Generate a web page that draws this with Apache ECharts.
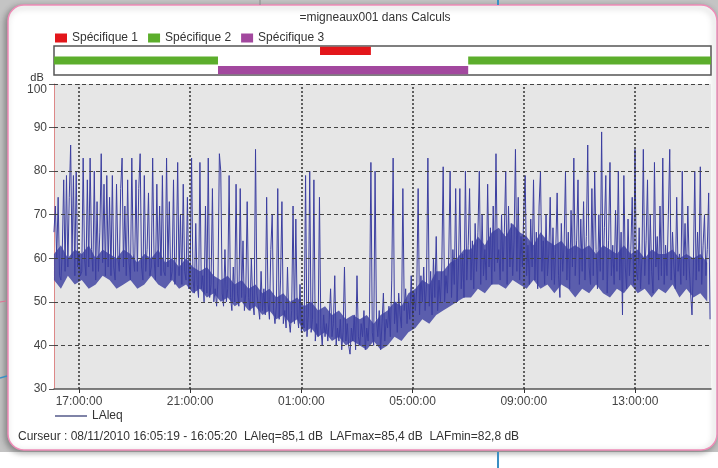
<!DOCTYPE html>
<html><head><meta charset="utf-8">
<script src="https://cdn.jsdelivr.net/npm/echarts@6/dist/echarts.min.js"></script>
<style>html,body{margin:0;padding:0;background:#fff}#c{width:718px;height:468px}</style>
</head><body><div id="c"></div>
<script>
// ---- text ----
const chartTitle = '=migneaux001 dans Calculs';
const cursorText = 'Curseur : 08/11/2010 16:05:19 - 16:05:20  LAleq=85,1 dB  LAFmax=85,4 dB  LAFmin=82,8 dB';
const yUnit = 'dB';
const seriesName = 'LAleq';

// ---- time sampling (hours, 24+ = next day) ----
const startHour = 16.1;
const stepHour = 0.05;
const xMin = 16.101, xMax = 39.734;

// ---- LAleq values (dB) ----
const laeqEvening = [
  66,72,60,74,56,55,62,78,57,79,58,74,86,60,79,56,80,58,61,56,
  57,83,60,56,78,58,83,62,57,80,55,73,57,66,84,59,77,56,79,58,
  74,56,79,58,55,77,60,57,76,83,58,72,56,78,59,55,83,61,57,78,
  57,76,84,58,55,79,57,62,75,56,58,83,60,55,77,58,72,56,79,57,
  56,83,58,73,55,57,78,54,60,82,56,70,54,77,57,55,74,53,58,83,
  55,52,68,54,51,82,53,56,50,72,52,83,51,54,76,50,53,49,55,84
];
const laeqNight = [
  80,52,49,62,50,53,79,51,48,58,50,77,52,49,76,51,64,48,52,73,
  51,48,60,50,47,85,52,49,46,57,48,53,47,74,50,46,62,70,48,45,
  49,76,46,55,73,45,48,44,58,46,43,48,72,45,69,47,44,54,43,46,
  44,79,42,47,80,43,46,78,41,45,42,74,44,40,47,42,45,41,46,53,
  42,45,56,40,44,41,46,39,43,58,41,45,40,38,44,41,47,39,56,42,
  40,45,42,48,39,44,41,47,82,43,40,80,46,42,48,39,45,52,41,46,
  44,49,42,55,83,45,50,43,52,47,44,76,48,53,45,50,46,56,47,52,
  48,53,76,47,56,50,58,48,54,83,49,57,47,60,51,65,48,55,50,58,
  81,50,56,52,60,80,51,62,54,76,50,58,76,53,61,51,80,55,63,76
];
const laeqDay = [
  55,64,53,68,57,66,80,54,70,56,62,55,77,58,67,54,72,57,84,59,
  62,55,70,57,66,80,54,72,58,68,56,64,85,57,74,55,65,58,71,79,
  56,63,54,69,58,78,55,66,53,72,80,57,64,54,70,56,61,74,55,67,
  54,62,75,56,51,68,57,63,80,55,66,53,71,58,83,56,64,78,54,69,
  57,73,55,65,86,58,54,76,56,80,62,53,70,57,89,55,67,79,52,64,
  82,56,63,54,71,57,80,55,66,47,79,58,53,69,56,62,74,54,85,57,
  55,67,53,60,85,56,64,78,54,70,57,52,82,58,65,55,72,56,83,54,
  63,56,70,85,55,66,58,53,74,57,61,54,80,56,68,55,72,58,52,47,
  58,80,55,66,57,81,54,63,70,56,62,75,46
];

// ---- dense background-noise band of LAleq (dB), every 15 min ----
const bandStepHour = 0.25;
const bandLow = [
  55,53,56,54,55,53,54,56,55,53,54,55,53,54,56,54,53,55,53,54,
  52,53,51,52, 50,51,49,50, 48,49,47,48, 46,47,45,46, 43,44,42,43,
  41,42,40,41, 40,39,41,39, 40,42,41,43, 44,46,45,47, 48,49,50,51,
  51,53,52,54, 54,53,55,54, 53,55,53,54, 52,54,53,51, 53,52,54,52,
  51,53,52,54, 52,53,51,53, 52,54,51,53, 51,52,50
];
const bandHigh = [
  61,63,60,62,61,63,60,62,61,60,62,61,59,61,60,62,59,60,58,60,
  58,57,58,56, 55,56,54,55, 53,54,52,53, 51,52,50,51, 49,50,48,49,
  47,48,46,47, 46,47,45,47, 48,50,49,52, 53,55,54,57, 57,59,60,62,
  62,65,63,66, 67,65,68,66, 65,63,66,64, 63,64,62,63, 62,63,61,63,
  62,61,63,61, 62,60,62,61, 61,62,60,61, 60,61,59
];

// ---- axis ticks ----
const xTickHours = [17, 21, 25, 29, 33, 37];
const xTickLabels = ['17:00:00','21:00:00','01:00:00','05:00:00','09:00:00','13:00:00'];
const yGridValues = [40, 50, 60, 70, 80, 90, 100];

// ---- period strip ----
const specNames = ['Spécifique 1', 'Spécifique 2', 'Spécifique 3'];
const specColors = ['#e3161b', '#5cae2c', '#a2489e'];
const spec1Periods = [[25.67, 27.5]];
const spec2Periods = [[16.1, 22.0], [31.0, 39.734]];
const spec3Periods = [[22.0, 31.0]];

const laeq = laeqEvening.concat(laeqNight, laeqDay);
const lineData = laeq.map((v, i) => [startHour + i * stepHour, v]);
const bandData = bandLow.map((v, i) => [startHour + i * bandStepHour, v, bandHigh[i]]);

function renderBar(params, api) {
  const a = api.coord([api.value(0), api.value(2)]);
  const b = api.coord([api.value(1), api.value(2)]);
  const h = api.size([0, 1])[1];
  return { type: 'rect', shape: { x: a[0], y: a[1] - h * 0.42, width: b[0] - a[0], height: h * 0.84 },
           style: { fill: api.visual('color') } };
}
function specSeries(idx, periods) {
  return { type: 'custom', name: specNames[idx], xAxisIndex: 1, yAxisIndex: 1,
    itemStyle: { color: specColors[idx] }, renderItem: renderBar, encode: { x: [0, 1], y: 2 },
    data: periods.map(p => [p[0], p[1], idx + 0.5]), silent: true };
}
const lineColor = '#3c3fa0';
function renderBand(params, api) {
  if (params.dataIndex !== 0) return null;
  const top = bandData.map(d => api.coord([d[0], d[2]]));
  const bottom = bandData.map(d => api.coord([d[0], d[1]])).reverse();
  return { type: 'polygon', shape: { points: top.concat(bottom) },
           style: { fill: lineColor, opacity: 0.82 } };
}

const font = 'Liberation Sans, Arial, sans-serif';
const chart = echarts.init(document.getElementById('c'));
chart.setOption({
  animation: false,
  textStyle: { fontFamily: font },
  graphic: [
    { type: 'rect', z: -20, shape: { x: 0, y: 0, width: 718, height: 452 }, style: { fill: '#c4c4c4' } },
    { type: 'rect', z: -19, shape: { x: 8, y: 5, width: 709, height: 445, r: 16 },
      style: { fill: '#fff', stroke: '#f08cb8', lineWidth: 1.5, shadowBlur: 6, shadowColor: 'rgba(0,0,0,0.35)', shadowOffsetX: -2, shadowOffsetY: 2 } },
    { type: 'line', z: -18, shape: { x1: 498, y1: 0, x2: 498, y2: 5 }, style: { stroke: '#3a8fc4', lineWidth: 2 } },
    { type: 'line', z: -18, shape: { x1: 498, y1: 452, x2: 498, y2: 468 }, style: { stroke: '#3a8fc4', lineWidth: 2 } },
    { type: 'line', z: -18, shape: { x1: 260, y1: 0, x2: 260, y2: 5 }, style: { stroke: '#8a8a8a', lineWidth: 1 } },
    { type: 'line', z: -18, shape: { x1: 0, y1: 378, x2: 7, y2: 376 }, style: { stroke: '#3a8fc4', lineWidth: 1.5 } },
    { type: 'line', z: -18, shape: { x1: 0, y1: 302, x2: 6, y2: 301 }, style: { stroke: '#e07090', lineWidth: 1 } },
    { type: 'text', z: 10, x: 375, y: 18, style: { text: chartTitle, font: '12px ' + font, fill: '#333', textAlign: 'center', textVerticalAlign: 'middle' } },
    { type: 'text', z: 10, x: 37, y: 78, style: { text: yUnit, font: '11px ' + font, fill: '#333', textAlign: 'center', textVerticalAlign: 'middle' } },
    { type: 'text', z: 10, x: 18, y: 437, style: { text: cursorText, font: '12px ' + font, fill: '#333', textAlign: 'left', textVerticalAlign: 'middle' } }
  ],
  legend: [
    { data: specNames, left: 55, top: 32, itemWidth: 12, itemHeight: 9, itemGap: 10, icon: 'rect', padding: 0,
      selectedMode: false, textStyle: { fontSize: 12, color: '#333' } },
    { data: [{ name: seriesName, icon: 'rect', itemStyle: { color: '#555a8a' } }], left: 55, top: 410, itemWidth: 32, itemHeight: 1.5, padding: 0,
      selectedMode: false, textStyle: { fontSize: 12, color: '#333' } }
  ],
  grid: [
    { left: 54, top: 84, width: 657, height: 305, show: true, backgroundColor: '#e6e6e6', borderWidth: 0 },
    { left: 54, top: 46, width: 657, height: 29, show: true, backgroundColor: '#fff', borderColor: '#555', borderWidth: 1.5 }
  ],
  xAxis: [
    { type: 'value', gridIndex: 0, min: xMin, max: xMax,
      axisLine: { lineStyle: { color: '#555', width: 1.5 } },
      axisTick: { customValues: xTickHours, length: 4, lineStyle: { color: '#333' } },
      axisLabel: { customValues: xTickHours, fontSize: 12, color: '#444', margin: 7,
        formatter: v => xTickLabels[xTickHours.findIndex(h => Math.abs(h - v) < 0.01)] || '' },
      splitLine: { show: false } },
    { type: 'value', gridIndex: 1, min: xMin, max: xMax, show: false }
  ],
  yAxis: [
    { type: 'value', gridIndex: 0, min: 30, max: 100, interval: 10,
      axisLine: { show: true, lineStyle: { color: '#dd8888' } },
      axisTick: { show: true, length: 5, lineStyle: { color: '#555' } },
      axisLabel: { fontSize: 12, color: '#444', margin: 7,
        formatter: v => v === 100 ? '{t|100}' : String(v),
        rich: { t: { fontSize: 12, color: '#444', padding: [11, 0, 0, 0] } } },
      splitLine: { show: false } },
    { type: 'value', gridIndex: 1, min: 0, max: 3, inverse: true, show: false }
  ],
  series: [
    specSeries(0, spec1Periods),
    specSeries(1, spec2Periods),
    specSeries(2, spec3Periods),
    { type: 'custom', name: 'band', xAxisIndex: 0, yAxisIndex: 0, data: bandData, encode: { x: 0, y: [1, 2] },
      renderItem: renderBand, silent: true, z: 1 },
    { type: 'line', name: seriesName, xAxisIndex: 0, yAxisIndex: 0, data: lineData,
      symbol: 'none', showSymbol: false, lineStyle: { width: 1, color: lineColor }, itemStyle: { color: lineColor },
      silent: true, z: 2,
      markLine: { silent: true, symbol: 'none', label: { show: false }, animation: false,
        data: yGridValues.map(v => ({ yAxis: v, lineStyle: { type: [4, 3], color: '#444', width: 1 } }))
          .concat(xTickHours.map(h => ({ xAxis: h, lineStyle: { type: [2, 2], color: '#333', width: 1.5 } }))) } }
  ]
});
</script></body></html>
